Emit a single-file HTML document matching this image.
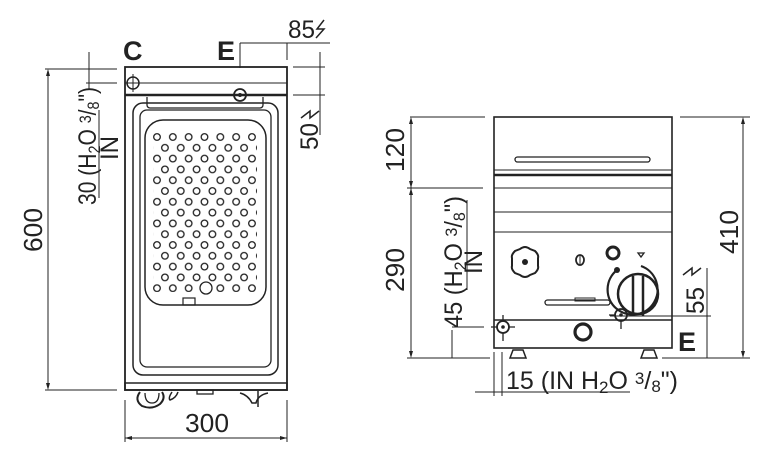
<!DOCTYPE html>
<html><head><style>html,body{margin:0;padding:0;background:#fff}svg{display:block}</style></head><body>
<svg width="766" height="457" viewBox="0 0 766 457" xmlns="http://www.w3.org/2000/svg" font-family="Liberation Sans, sans-serif" fill="none" stroke="#222" stroke-width="1">
<defs>
<pattern id="h" patternUnits="userSpaceOnUse" x="149.1" y="131.6" width="15.83" height="21.6">
<circle cx="7.9" cy="5.4" r="3.3" stroke="#222" stroke-width="1.3" fill="none"/>
<circle cx="0" cy="16.2" r="3.3" stroke="#222" stroke-width="1.3" fill="none"/>
<circle cx="15.83" cy="16.2" r="3.3" stroke="#222" stroke-width="1.3" fill="none"/>
</pattern>
</defs>
<!-- LEFT VIEW -->
<rect x="125" y="67" width="162" height="323" stroke-width="1.8"/>
<line x1="125" y1="83" x2="287" y2="83"/>
<line x1="125" y1="95" x2="287" y2="95" stroke-width="2.5"/>
<path d="M147 97 v8 a3 3 0 0 0 3 3 h110 a3 3 0 0 0 3 -3 v-8" stroke-width="1.3"/>
<rect x="133" y="103" width="145" height="272" rx="10" stroke-width="1.5"/>
<rect x="140" y="110" width="131" height="257" rx="7" stroke-width="1.3"/>
<rect x="145" y="120" width="121" height="185" rx="18" stroke-width="1.5"/>
<rect x="153" y="131" width="104" height="161" fill="url(#h)" stroke="none"/>
<circle cx="206" cy="288" r="6" fill="#fff" stroke-width="1.3"/>
<rect x="183" y="298" width="12" height="7" stroke-width="1.2"/>
<rect x="125" y="383" width="162" height="7" stroke-width="1.5"/>
<circle cx="133" cy="83" r="6" stroke-width="1.5"/><line x1="133" y1="74" x2="133" y2="92"/>
<circle cx="240" cy="95" r="6" stroke-width="1.8"/><circle cx="240" cy="95" r="1.5" fill="#222"/>
<line x1="230" y1="95" x2="262" y2="95"/>
<path d="M140 392 q-6 8 2 14 q10 4 18 -2 q6 -6 2 -12" stroke-width="2"/>
<path d="M145 393 q0 10 7 10 q7 0 7 -10" stroke-width="1.3"/>
<path d="M172 392 q-4 6 -2 8 q6 -2 8 -8" stroke-width="1.5"/>
<rect x="197" y="390" width="16" height="4" stroke-width="1.3"/>
<path d="M240 393 q8 2 12 10 h4 q2 -8 12 -10" stroke-width="1.5"/>
<line x1="258" y1="391" x2="258" y2="407" stroke-width="1.5"/>
<!-- left dims -->
<line x1="45" y1="69" x2="117" y2="69"/><line x1="45" y1="390" x2="117" y2="390"/>
<line x1="48" y1="72" x2="48" y2="388"/>
<path d="M48 69 l-2 7 h4z M48 390 l-2 -7 h4z" fill="#222" stroke="none"/>
<text transform="translate(42,230) rotate(-90)" font-size="26" fill="#222" stroke="none" text-anchor="middle" textLength="44" lengthAdjust="spacingAndGlyphs">600</text>
<line x1="86" y1="83" x2="117" y2="83"/>
<line x1="89" y1="52" x2="89" y2="90"/>
<text transform="translate(96,205) rotate(-90)" font-size="25" fill="#222" stroke="none" textLength="118" lengthAdjust="spacingAndGlyphs">30 (H<tspan font-size="17" dy="4">2</tspan><tspan dy="-4">O </tspan><tspan font-size="17" dy="-5">3</tspan><tspan dy="5">/</tspan><tspan font-size="17" dy="3">8</tspan><tspan dy="-3">")</tspan></text>
<line x1="99" y1="110" x2="99" y2="198"/>
<text transform="translate(118,148) rotate(-90)" font-size="25" fill="#222" stroke="none" text-anchor="middle" textLength="24" lengthAdjust="spacingAndGlyphs">IN</text>
<line x1="125" y1="400" x2="125" y2="442"/><line x1="287" y1="400" x2="287" y2="442"/>
<line x1="125" y1="438" x2="287" y2="438"/>
<path d="M125 438 l7 -2 v4z M287 438 l-7 -2 v4z" fill="#222" stroke="none"/>
<text x="207" y="432" font-size="26" fill="#222" stroke="none" text-anchor="middle" textLength="44" lengthAdjust="spacingAndGlyphs">300</text>
<text x="123" y="60" font-size="27" font-weight="bold" fill="#222" stroke="none">C</text>
<text x="217" y="60" font-size="27" font-weight="bold" fill="#222" stroke="none">E</text>
<line x1="240" y1="43" x2="240" y2="68"/><line x1="240" y1="43" x2="330" y2="43"/>
<line x1="287" y1="43" x2="287" y2="60"/>
<text x="288" y="38" font-size="25" fill="#222" stroke="none" textLength="27" lengthAdjust="spacingAndGlyphs">85</text>
<path d="M324 20 l-7 9 h7 l-8 9" stroke-width="1.5"/>
<line x1="293" y1="67" x2="325" y2="67"/><line x1="293" y1="95" x2="325" y2="95"/>
<line x1="320" y1="52" x2="320" y2="135"/>
<text transform="translate(318,150) rotate(-90)" font-size="25" fill="#222" stroke="none" textLength="27" lengthAdjust="spacingAndGlyphs">50</text>
<path d="M301 118 l9 -7 v7 l9 -7" stroke-width="1.5"/>
<!-- RIGHT VIEW -->
<rect x="494" y="117" width="178" height="231" stroke-width="1.6"/>
<rect x="515" y="157" width="135" height="5" rx="2.5" stroke-width="1.3"/>
<line x1="494" y1="170" x2="672" y2="170"/>
<line x1="494" y1="175" x2="672" y2="175" stroke-width="2.5"/>
<line x1="494" y1="188" x2="672" y2="188"/>
<line x1="494" y1="212" x2="672" y2="212"/>
<line x1="494" y1="232" x2="672" y2="232"/>
<line x1="494" y1="320" x2="672" y2="320" stroke-width="1.6"/>
<path d="M520 249 q5 -4 10 0 l5 2 q4 4 3 7 v8 q1 3 -3 7 l-5 2 q-5 4 -10 0 l-5 -2 q-4 -4 -3 -7 v-8 q-1 -3 3 -7z" stroke-width="2"/>
<circle cx="525" cy="262" r="3" fill="#222" stroke="none"/>
<ellipse cx="580" cy="260" rx="4" ry="5" stroke-width="1.8"/><line x1="580" y1="256" x2="580" y2="264"/>
<circle cx="613" cy="253" r="6" stroke-width="3"/>
<path d="M638 253 h6 l-3 4z" stroke-width="1.3"/>
<circle cx="617" cy="270" r="3" fill="#222" stroke="none"/>
<path d="M617 270 a25 25 0 1 0 24 -4" stroke-width="2.2"/>
<circle cx="638" cy="294" r="20" stroke-width="2.5"/>
<path d="M633 276 v40 M643 276 v40" stroke-width="2.5"/>
<rect x="545" y="300" width="65" height="5" rx="2.5" stroke-width="1.3"/>
<rect x="575" y="298" width="20" height="3" stroke-width="1"/>
<circle cx="503" cy="327" r="6" stroke-width="1.8"/><circle cx="503" cy="327" r="1.8" fill="#222" stroke="none"/>
<path d="M503 315 v6 M503 333 v8 M491 327 h6 M509 327 h6" stroke-width="1.3"/>
<circle cx="621" cy="315" r="6" stroke-width="1.8"/><circle cx="621" cy="315" r="1.8" fill="#222" stroke="none"/>
<path d="M621 321 v8 M609 315 h6" stroke-width="1.3"/>
<circle cx="583" cy="332" r="8" stroke-width="3.2"/>
<path d="M510 358 l3 -8 h10 l3 8z M641 358 l3 -8 h10 l3 8z" stroke-width="1.5"/>
<!-- right dims -->
<line x1="680" y1="117" x2="750" y2="117"/><line x1="662" y1="358" x2="750" y2="358"/>
<line x1="743" y1="120" x2="743" y2="355"/>
<path d="M743 117 l-2 7 h4z M743 358 l-2 -7 h4z" fill="#222" stroke="none"/>
<text transform="translate(738,232) rotate(-90)" font-size="26" fill="#222" stroke="none" text-anchor="middle" textLength="44" lengthAdjust="spacingAndGlyphs">410</text>
<line x1="410" y1="117" x2="485" y2="117"/><line x1="407" y1="188" x2="483" y2="188"/>
<line x1="407" y1="358" x2="490" y2="358"/>
<line x1="411" y1="120" x2="411" y2="355"/>
<path d="M411 117 l-2 7 h4z M411 188 l-2 -7 h4z M411 188 l-2 7 h4z M411 358 l-2 -7 h4z" fill="#222" stroke="none"/>
<text transform="translate(404,150) rotate(-90)" font-size="26" fill="#222" stroke="none" text-anchor="middle" textLength="44" lengthAdjust="spacingAndGlyphs">120</text>
<text transform="translate(404,270) rotate(-90)" font-size="26" fill="#222" stroke="none" text-anchor="middle" textLength="44" lengthAdjust="spacingAndGlyphs">290</text>
<line x1="452" y1="327" x2="484" y2="327"/>
<line x1="452" y1="330" x2="452" y2="358"/>
<text transform="translate(462,328) rotate(-90)" font-size="25" fill="#222" stroke="none" textLength="132" lengthAdjust="spacingAndGlyphs">45 (H<tspan font-size="17" dy="4">2</tspan><tspan dy="-4">O </tspan><tspan font-size="17" dy="-5">3</tspan><tspan dy="5">/</tspan><tspan font-size="17" dy="3">8</tspan><tspan dy="-3">")</tspan></text>
<line x1="467" y1="200" x2="467" y2="290"/>
<text transform="translate(482,262) rotate(-90)" font-size="25" fill="#222" stroke="none" text-anchor="middle" textLength="24" lengthAdjust="spacingAndGlyphs">IN</text>
<line x1="610" y1="316" x2="711" y2="316"/>
<line x1="707" y1="268" x2="707" y2="358"/>
<text transform="translate(704,314) rotate(-90)" font-size="25" fill="#222" stroke="none" textLength="27" lengthAdjust="spacingAndGlyphs">55</text>
<path d="M683 275 l9 -7 v7 l9 -7" stroke-width="1.5"/>
<text x="678" y="351" font-size="27" font-weight="bold" fill="#222" stroke="none">E</text>
<line x1="494" y1="352" x2="494" y2="396"/><line x1="502" y1="352" x2="502" y2="396"/>
<line x1="475" y1="392" x2="630" y2="392"/>
<text x="506" y="389" font-size="25" fill="#222" stroke="none" textLength="172" lengthAdjust="spacingAndGlyphs">15 (IN H<tspan font-size="17" dy="4">2</tspan><tspan dy="-4">O </tspan><tspan font-size="17" dy="-5">3</tspan><tspan dy="5">/</tspan><tspan font-size="17" dy="3">8</tspan><tspan dy="-3">")</tspan></text>
</svg>
</body></html>
